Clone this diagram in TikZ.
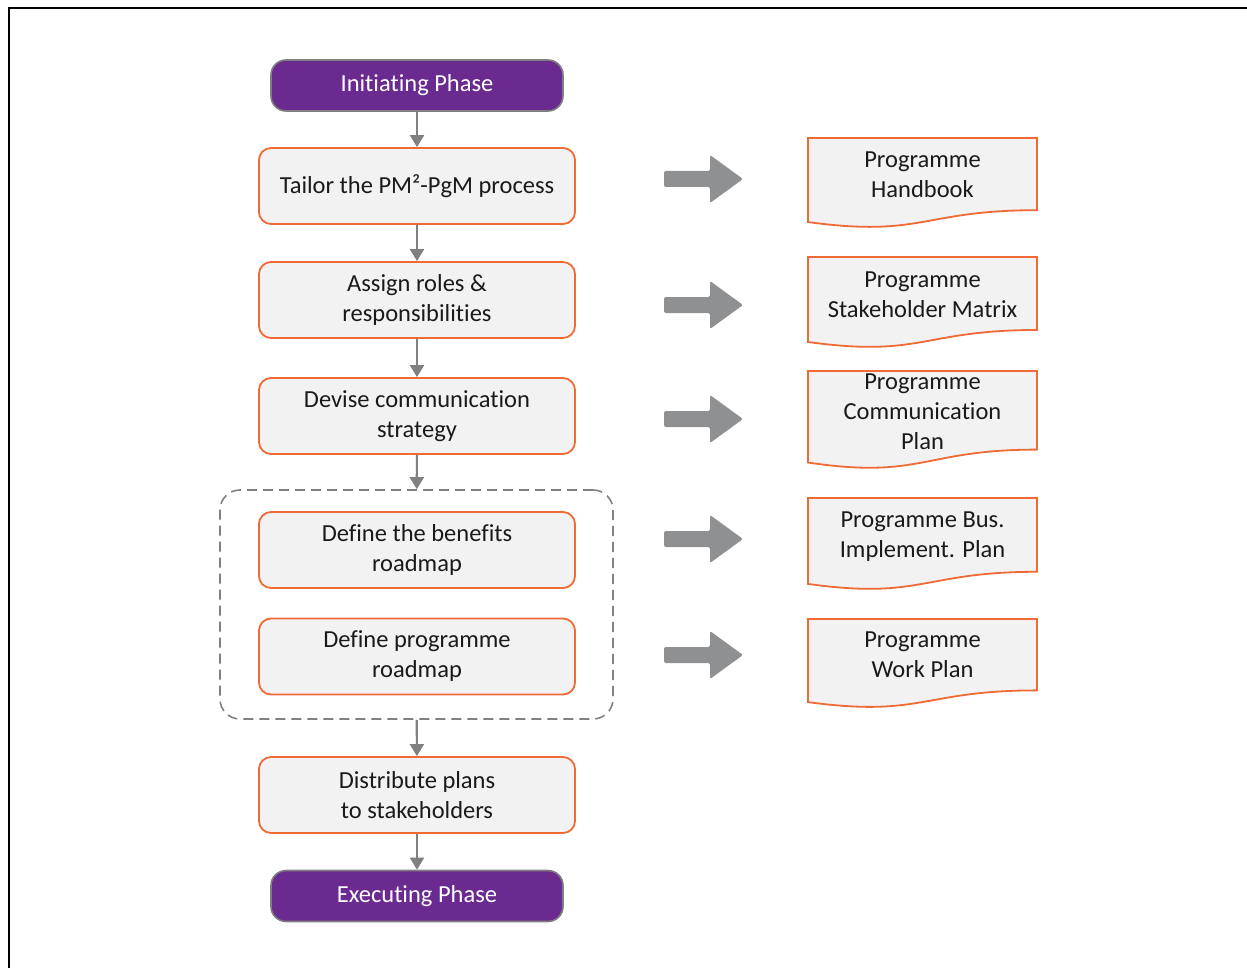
\documentclass[tikz,border=0pt]{standalone}
\usepackage{fontspec}
\setmainfont{Carlito}[Ligatures=NoCommon,Contextuals=NoAlternate]
\usetikzlibrary{arrows.meta}
\definecolor{phasepurple}{HTML}{6B2A8F}
\definecolor{phaseedge}{HTML}{7F7F7F}
\definecolor{stepedge}{HTML}{EF6A35}
\definecolor{stepfill}{HTML}{F2F2F2}
\definecolor{linkgray}{HTML}{808080}
\definecolor{bigarrow}{HTML}{8E9092}
\definecolor{txt}{HTML}{1A1A1A}
\tikzset{
  phasebox/.style={draw=phaseedge, line width=1.6pt, fill=phasepurple, rounded corners=15pt,
    minimum width=292pt, minimum height=51pt, inner sep=0pt, text=white,
    font=\fontsize{24.5}{30}\selectfont},
  stepbox/.style={draw=stepedge, line width=1.8pt, fill=stepfill, rounded corners=12pt,
    minimum width=316pt, minimum height=76pt, inner sep=0pt, text=txt, align=center,
    font=\fontsize{24.5}{30}\selectfont},
  groupbox/.style={draw=linkgray, line width=1.6pt, dash pattern=on 10pt off 6pt,
    rounded corners=20pt, minimum width=393pt, minimum height=229pt, inner sep=0pt},
  conn/.style={draw=linkgray, line width=2.2pt, -{Triangle[width=14pt,length=12pt]}},
  doclabel/.style={text=txt, align=center, inner sep=0pt, font=\fontsize{24.5}{30}\selectfont},
  docshape/.style={draw=stepedge, line width=1.8pt, fill=stepfill},
  blockarrow/.style={fill=bigarrow, rounded corners=2pt},
}
\begin{document}
\begin{tikzpicture}[x=1pt,y=-1pt]
\useasboundingbox (0,0) rectangle (1247,968);
% outer frame (left and top edges)
\draw[line width=2pt] (9,968) -- (9,8) -- (1247,8);

% process column
\node[phasebox] (init) at (417,85.5) {Initiating Phase};
\node[stepbox] (tailor) at (417,186) {Tailor the PM²-PgM process};
\node[stepbox] (assign) at (417,300) {Assign roles \&\\responsibilities};
\node[stepbox] (devise) at (417,416) {Devise communication\\strategy};
\node[groupbox] (grp) at (416.5,604.5) {};
\node[stepbox] (benefits) at (417,550) {Define the benefits\\roadmap};
\node[stepbox] (progroad) at (417,656.5) {Define programme\\roadmap};
\node[stepbox] (distrib) at (417,795) {Distribute plans\\to stakeholders};
\node[phasebox] (exec) at (417,896) {Executing Phase};

\draw[conn] (init) -- (tailor);
\draw[conn] (tailor) -- (assign);
\draw[conn] (assign) -- (devise);
\draw[conn] (devise) -- (grp);
\draw[conn] (grp) -- (distrib);
\draw[conn] (distrib) -- (exec);

% block arrows pointing to the outputs
\foreach \y in {179,305,419,539,655}{
  \path[blockarrow] (664,\y-8) -- (710,\y-8) -- (710,\y-24) -- (743,\y)
    -- (710,\y+24) -- (710,\y+8) -- (664,\y+8) -- cycle;
}

% output documents: top edge, height of shape
\foreach \t/\h in {138/90,257/91,371/98,498/92,619/89}{
  \draw[docshape] (808,\t) -- (1037,\t) -- (1037,\t+0.802*\h)
    .. controls (922.5,\t+0.802*\h) and (922.5,\t+1.1075*\h) .. (808,\t+0.934*\h) -- cycle;
}
\node[doclabel] (handbook) at (922.5,174.5) {Programme\\Handbook};
\node[doclabel] (matrix) at (922.5,294.5) {Programme\\Stakeholder Matrix};
\node[doclabel] (commplan) at (922.5,412) {Programme\\Communication\\Plan};
\node[doclabel] (busplan) at (922.5,536.5) {Programme Bus.\\Implement. Plan};
\node[doclabel] (workplan) at (922.5,655) {Programme\\Work Plan};
\end{tikzpicture}
\end{document}
